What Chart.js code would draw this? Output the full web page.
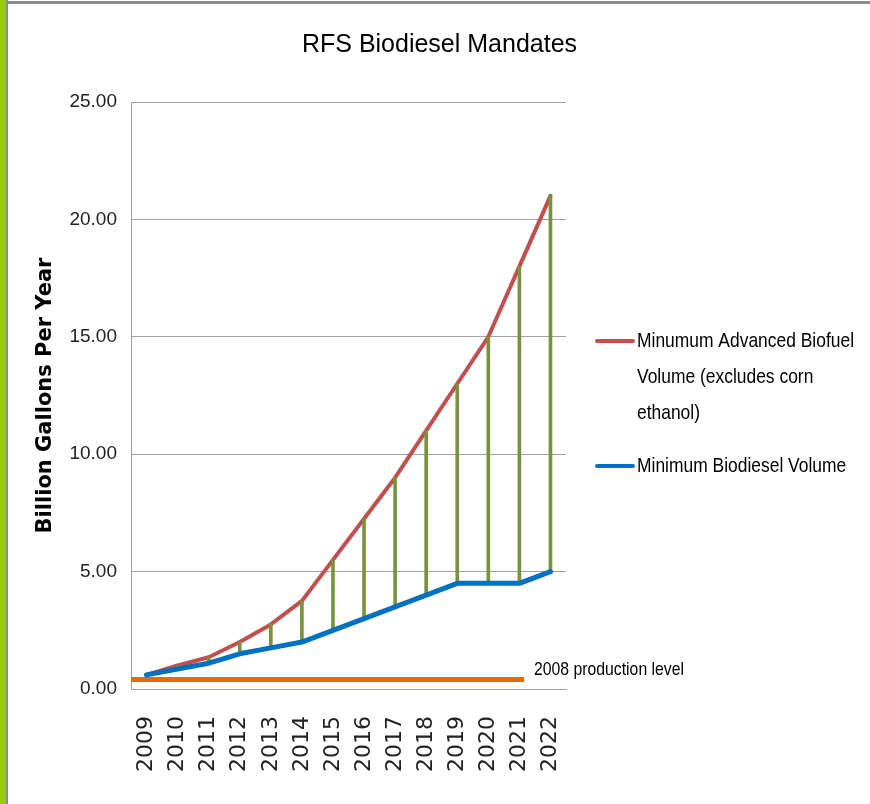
<!DOCTYPE html>
<html>
<head>
<meta charset="utf-8">
<script src="https://cdn.jsdelivr.net/npm/chart.js@4"></script>
<style>
  html, body { margin: 0; padding: 0; background: #fff; }
  #wrap { position: absolute; left: 0; top: 0; width: 870px; height: 804px; }
</style>
</head>
<body>
<div id="wrap"><canvas id="c" width="870" height="804"></canvas></div>
<script>
// ---- Data ----
const years = [2009, 2010, 2011, 2012, 2013, 2014, 2015, 2016, 2017, 2018, 2019, 2020, 2021, 2022];
const advancedBiofuel = [0.6, 1.0, 1.35, 2.0, 2.75, 3.75, 5.5, 7.25, 9.0, 11.0, 13.0, 15.0, 18.0, 21.0];
const biodiesel = [0.6, 0.85, 1.1, 1.5, 1.75, 2.0, 2.5, 3.0, 3.5, 4.0, 4.5, 4.5, 4.5, 5.0];
const yTicks = [0, 5, 10, 15, 20, 25];
const productionLevel = 0.4;
const productionLevelSpan = [2008.5, 2021.15];
const productionLabel = '2008 production level';
const advancedLabel = 'Minumum Advanced Biofuel Volume (excludes corn ethanol)';
const biodieselLabel = 'Minimum Biodiesel Volume';
const titleText = 'RFS Biodiesel Mandates';
const yTitle = 'Billion Gallons Per Year';

const RED = '#C0504D', BLUE = '#0070C0', GREEN = '#77933C', ORANGE = '#E46C0A';
const SANS = '"Liberation Sans", Arial, sans-serif';
const NARROW_SCALE = 0.83;

const framePlugin = {
  id: 'frame',
  beforeDraw(chart) {
    const ctx = chart.ctx;
    ctx.save();
    ctx.fillStyle = '#ffffff';
    ctx.fillRect(0, 0, chart.width, chart.height);
    ctx.fillStyle = '#99CC00';
    ctx.fillRect(0, 0, 6, chart.height);
    ctx.fillStyle = '#8c8c8c';
    ctx.fillRect(6, 0, 2, chart.height);
    ctx.fillRect(6, 1, chart.width - 6, 3);
    ctx.restore();
  }
};

// draw horizontally condensed text (narrow font look)
function narrowText(ctx, text, x, y) {
  ctx.save();
  ctx.translate(x, y);
  ctx.scale(NARROW_SCALE, 1);
  ctx.fillText(text, 0, 0);
  ctx.restore();
}

const annotPlugin = {
  id: 'annot',
  afterDraw(chart) {
    const ctx = chart.ctx;
    const area = chart.chartArea;
    const xs = chart.scales.x, ys = chart.scales.y;
    ctx.save();
    // production level label
    ctx.font = '19px ' + SANS;
    ctx.fillStyle = '#000';
    ctx.textBaseline = 'middle';
    ctx.textAlign = 'left';
    narrowText(ctx, productionLabel, xs.getPixelForValue(productionLevelSpan[1]) + 10, ys.getPixelForValue(productionLevel) - 10);

    // legend
    ctx.font = '21px ' + SANS;
    const items = [
      { text: advancedLabel, color: RED, y: area.top + 239 },
      { text: biodieselLabel, color: BLUE, y: area.top + 364 }
    ];
    const lx = area.right + 31, lineLen = 36, tx = area.right + 71, maxW = 226, lh = 36;
    items.forEach(it => {
      ctx.strokeStyle = it.color;
      ctx.lineWidth = 4;
      ctx.lineCap = 'round';
      ctx.beginPath();
      ctx.moveTo(lx, it.y);
      ctx.lineTo(lx + lineLen, it.y);
      ctx.stroke();
      const words = it.text.split(' ');
      const lines = [];
      let cur = '';
      words.forEach(w => {
        const t = cur ? cur + ' ' + w : w;
        if (ctx.measureText(t).width * NARROW_SCALE > maxW && cur) { lines.push(cur); cur = w; }
        else cur = t;
      });
      if (cur) lines.push(cur);
      ctx.fillStyle = '#000';
      lines.forEach((l, i) => narrowText(ctx, l, tx, it.y + i * lh));
    });
    ctx.restore();
  }
};

new Chart(document.getElementById('c'), {
  type: 'line',
  data: {
    datasets: [
      {
        type: 'line',
        label: biodieselLabel,
        data: years.map((yr, i) => ({ x: yr, y: biodiesel[i] })),
        borderColor: BLUE,
        borderWidth: 5,
        pointRadius: 0,
        tension: 0,
        borderCapStyle: 'round',
        borderJoinStyle: 'round',
        order: 0
      },
      {
        type: 'bar',
        label: 'gap',
        data: years.slice(1).map((yr, i) => ({ x: yr, y: [biodiesel[i + 1], advancedBiofuel[i + 1]] })),
        backgroundColor: GREEN,
        borderWidth: 0,
        barThickness: 3,
        order: 1
      },
      {
        type: 'line',
        label: advancedLabel,
        data: years.map((yr, i) => ({ x: yr, y: advancedBiofuel[i] })),
        borderColor: RED,
        borderWidth: 4,
        pointRadius: 0,
        tension: 0,
        borderCapStyle: 'round',
        borderJoinStyle: 'round',
        order: 2
      },
      {
        type: 'line',
        label: productionLabel,
        data: productionLevelSpan.map(x => ({ x: x, y: productionLevel })),
        borderColor: ORANGE,
        borderWidth: 5,
        pointRadius: 0,
        borderCapStyle: 'butt',
        order: 3
      }
    ]
  },
  options: {
    responsive: false,
    animation: false,
    events: [],
    layout: { padding: { left: 9, top: 4, right: 0, bottom: 0 } },
    plugins: {
      legend: { display: false },
      tooltip: { enabled: false },
      title: {
        display: true,
        text: titleText,
        color: '#000',
        font: { family: SANS, size: 25, weight: 'normal', lineHeight: 1.2 },
        padding: { top: 26, bottom: 42 }
      }
    },
    scales: {
      x: {
        type: 'linear',
        min: years[0] - 0.5,
        max: years[years.length - 1] + 0.5,
        offset: false,
        afterBuildTicks: s => { s.ticks = years.map(v => ({ value: v })); },
        afterFit: s => { s.height = 115; },
        grid: { display: false, drawTicks: false },
        border: { display: true, color: '#a0a0a0', width: 1 },
        ticks: {
          autoSkip: false,
          minRotation: 90,
          maxRotation: 90,
          padding: 27,
          color: '#222',
          font: { family: '"DejaVu Sans", Verdana, sans-serif', size: 22 },
          callback: v => String(v)
        }
      },
      y: {
        position: 'left',
        min: 0,
        max: 25,
        afterBuildTicks: s => { s.ticks = yTicks.map(v => ({ value: v })); },
        afterFit: s => { s.width = 122; },
        grid: { color: '#a0a0a0', lineWidth: 1, drawTicks: false },
        border: { display: true, color: '#a0a0a0', width: 1 },
        ticks: {
          padding: 14,
          color: '#222',
          font: { family: SANS, size: 19 },
          callback: v => Number(v).toFixed(2)
        },
        title: {
          display: true,
          text: yTitle,
          color: '#000',
          font: { family: '"DejaVu Sans", Verdana, sans-serif', size: 21, weight: 'bold', lineHeight: 1.2 },
          padding: { top: 24, bottom: 0 }
        }
      },
      y2: {
        position: 'right',
        display: true,
        min: 0,
        max: 25,
        afterFit: s => { s.width = 304; },
        grid: { display: false, drawTicks: false },
        border: { display: false },
        ticks: { display: false }
      }
    }
  },
  plugins: [framePlugin, annotPlugin]
});
</script>
</body>
</html>
